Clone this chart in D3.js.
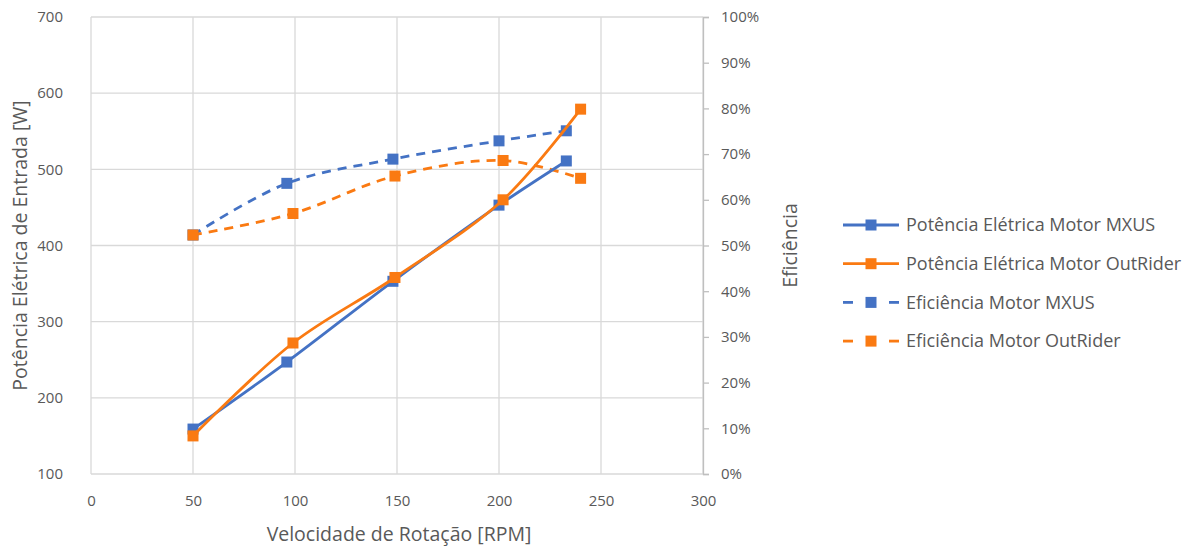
<!DOCTYPE html>
<html><head><meta charset="utf-8">
<script src="https://cdn.jsdelivr.net/npm/d3@7"></script>
<style>body{margin:0;background:#fff;} text{font-family:"Open Sans","Liberation Sans",sans-serif;fill:#595959;}</style>
</head><body><svg id="c" width="1194" height="548"></svg>
<script>
const mxusRpm = [50, 96, 148, 200, 233];
const mxusPower = [159, 247, 353, 453, 511];
const mxusEff = [0.523, 0.636, 0.689, 0.729, 0.751];
const outRpm = [50, 99, 149, 202, 240];
const outPower = [150, 272, 358, 460, 579];
const outEff = [0.523, 0.570, 0.652, 0.686, 0.647];
const xTicks = [0, 50, 100, 150, 200, 250, 300];
const yTicks = [100, 200, 300, 400, 500, 600, 700];
const pTicks = [0, .1, .2, .3, .4, .5, .6, .7, .8, .9, 1];
const legendNames = ["Potência Elétrica Motor MXUS", "Potência Elétrica Motor OutRider", "Eficiência Motor MXUS", "Eficiência Motor OutRider"];

const BLUE = "#4472C4", ORANGE = "#FA7A12";
const svg = d3.select("#c");
const L = 91, R = 703, T = 17, B = 474;
const x = d3.scaleLinear().domain([0, 300]).range([L, R]);
const y = d3.scaleLinear().domain([100, 700]).range([B, T]);
const yp = d3.scaleLinear().domain([0, 1]).range([B, T]);

// gridlines
svg.append("g").selectAll("line").data(yTicks).join("line")
  .attr("x1", L).attr("x2", R).attr("y1", d => y(d)).attr("y2", d => y(d))
  .attr("stroke", "#d9d9d9").attr("stroke-width", 1.3);
svg.append("g").selectAll("line").data(xTicks).join("line")
  .attr("x1", d => x(d)).attr("x2", d => x(d)).attr("y1", T).attr("y2", B)
  .attr("stroke", "#d9d9d9").attr("stroke-width", 1.3);

// axes
const fs = "15px";
const gx = svg.append("g").attr("transform", `translate(0,${B})`)
  .call(d3.axisBottom(x).tickValues(xTicks).tickSize(0).tickPadding(21));
gx.select(".domain").remove();
gx.selectAll("text").style("font-size", fs).attr("fill", "#595959");
const gy = svg.append("g").attr("transform", `translate(${L},0)`)
  .call(d3.axisLeft(y).tickValues(yTicks).tickSize(0).tickPadding(28));
gy.select(".domain").remove();
gy.selectAll("text").style("font-size", fs).attr("fill", "#595959");
const gp = svg.append("g").attr("transform", `translate(${R},0)`)
  .call(d3.axisRight(yp).tickValues(pTicks).tickSize(6).tickPadding(12).tickFormat(d3.format(".0%")));
gp.select(".domain").attr("stroke", "#bfbfbf").attr("stroke-width", 1.3);
gp.selectAll(".tick line").attr("stroke", "#bfbfbf").attr("stroke-width", 1.3);
gp.selectAll("text").style("font-size", fs).attr("fill", "#595959");

// titles
svg.append("text").attr("x", (L + R) / 2 + 2).attr("y", 541).attr("text-anchor", "middle")
  .style("font-size", "19.5px").text("Velocidade de Rotação [RPM]");
svg.append("text").attr("transform", `translate(27,${(T + B) / 2}) rotate(-90)`).attr("text-anchor", "middle")
  .style("font-size", "19.5px").text("Potência Elétrica de Entrada [W]");
svg.append("text").attr("transform", `translate(797,${(T + B) / 2}) rotate(-90)`).attr("text-anchor", "middle")
  .style("font-size", "19.5px").text("Eficiência");

const curve = d3.curveCatmullRom.alpha(0.5);
const series = [
  {rpm: mxusRpm, vals: mxusPower, sc: y, color: BLUE, dash: null},
  {rpm: outRpm, vals: outPower, sc: y, color: ORANGE, dash: null},
  {rpm: mxusRpm, vals: mxusEff, sc: yp, color: BLUE, dash: "9,7"},
  {rpm: outRpm, vals: outEff, sc: yp, color: ORANGE, dash: "9,7"},
];
const drawOrder = [2, 3, 0, 1];
drawOrder.forEach(i => {
  const s = series[i];
  const pts = s.rpm.map((r, j) => [x(r), s.sc(s.vals[j])]);
  svg.append("path").attr("d", d3.line().curve(curve)(pts)).attr("fill", "none")
    .attr("stroke", s.color).attr("stroke-width", 2.8).attr("stroke-dasharray", s.dash);
  svg.append("g").selectAll("rect").data(pts).join("rect")
    .attr("x", d => d[0] - 5.5).attr("y", d => d[1] - 5.5).attr("width", 11).attr("height", 11)
    .attr("fill", s.color);
});

// legend
const lg = svg.append("g");
series.forEach((s, i) => {
  const ly = 225 + i * 38.7;
  if (s.dash) {
    lg.append("line").attr("x1", 843).attr("x2", 853).attr("y1", ly).attr("y2", ly).attr("stroke", s.color).attr("stroke-width", 2.8);
    lg.append("line").attr("x1", 889).attr("x2", 899).attr("y1", ly).attr("y2", ly).attr("stroke", s.color).attr("stroke-width", 2.8);
  } else {
    lg.append("line").attr("x1", 843).attr("x2", 899).attr("y1", ly).attr("y2", ly).attr("stroke", s.color).attr("stroke-width", 2.8);
  }
  lg.append("rect").attr("x", 865.5).attr("y", ly - 5.5).attr("width", 11).attr("height", 11).attr("fill", s.color);
  lg.append("text").attr("x", 906).attr("y", ly).attr("dy", "0.35em").style("font-size", "18px").text(legendNames[i]);
});
</script></body></html>
